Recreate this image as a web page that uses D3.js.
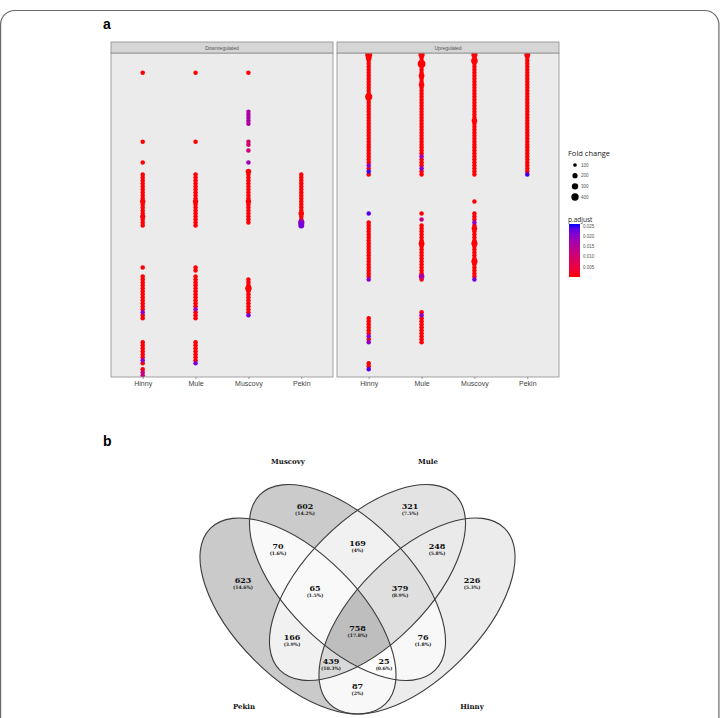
<!DOCTYPE html>
<html>
<head>
<meta charset="utf-8">
<script src="https://cdn.jsdelivr.net/npm/d3@7"></script>
<style>
body { margin: 0; background: #fff; }
svg { display: block; }
</style>
</head>
<body>
<svg id="fig" width="720" height="718"></svg>
<script>
// ---- panel a data ----
var species = ["Hinny", "Mule", "Muscovy", "Pekin"];
var facets = ["Downregulated", "Upregulated"];
var nTerms = 108;

// term rows (1 = top) that carry a dot
var downHinny = [7, 30, 37, 41, 42, 43, 44, 45, 46, 47, 48, 49, 50, 51, 52, 53, 54, 55, 56, 57, 58, 72,
    75, 76, 77, 78, 79, 80, 81, 82, 83, 84, 85, 86, 87, 88, 89, 97, 98, 99, 100, 101, 102, 103, 104, 106, 107, 108];
var downMule = [7, 30, 41, 42, 43, 44, 45, 46, 47, 48, 49, 50, 51, 52, 53, 54, 55, 56, 57, 58, 72, 73,
    75, 76, 77, 78, 79, 80, 81, 82, 83, 84, 85, 86, 87, 88, 89, 97, 98, 99, 100, 101, 102, 103, 104];
var downMuscovy = [7, 20, 21, 22, 23, 24, 30, 31, 33, 37, 40, 41, 42, 43, 44, 45, 46, 47, 48, 49, 50, 51, 52,
    53, 54, 55, 56, 57, 76, 77, 78, 79, 80, 81, 82, 83, 84, 85, 86, 87, 88];
var downPekin = [41, 42, 43, 44, 45, 46, 47, 48, 49, 50, 51, 52, 53, 54, 55, 56, 57, 58];
var upHinny = [1, 2, 3, 4, 5, 6, 7, 8, 9, 10, 11, 12, 13, 14, 15, 16, 17, 18, 19, 20, 21, 22, 23, 24, 25, 26,
    27, 28, 29, 30, 31, 32, 33, 34, 35, 36, 37, 38, 39, 40, 41, 54, 57, 58, 59, 60, 61, 62, 63, 64, 65, 66,
    67, 68, 69, 70, 71, 72, 73, 74, 75, 76, 89, 90, 91, 92, 93, 94, 95, 96, 97, 104, 105, 106];
var upMule = [1, 2, 3, 4, 5, 6, 7, 8, 9, 10, 11, 12, 13, 14, 15, 16, 17, 18, 19, 20, 21, 22, 23, 24, 25, 26,
    27, 28, 29, 30, 31, 32, 33, 34, 35, 36, 37, 38, 39, 40, 41, 54, 56, 58, 59, 60, 61, 62, 63, 64, 65, 66,
    67, 68, 69, 70, 71, 72, 73, 74, 75, 76, 87, 88, 89, 90, 91, 92, 93, 94, 95, 96, 97];
var upMuscovy = [1, 2, 3, 4, 5, 6, 7, 8, 9, 10, 11, 12, 13, 14, 15, 16, 17, 18, 19, 20, 21, 22, 23, 24, 25, 26,
    27, 28, 29, 30, 31, 32, 33, 34, 35, 36, 37, 38, 39, 40, 41, 50, 54, 55, 56, 57, 58, 59, 60, 61, 62, 63,
    64, 65, 66, 67, 68, 69, 70, 71, 72, 73, 74, 75, 76];
var upPekin = [1, 2, 3, 4, 5, 6, 7, 8, 9, 10, 11, 12, 13, 14, 15, 16, 17, 18, 19, 20, 21, 22, 23, 24, 25, 26,
    27, 28, 29, 30, 31, 32, 33, 34, 35, 36, 37, 38, 39, 40, 41];

var baseFold = 150;     // most dots
var basePadj = 0.0003;

// dots that are bigger than the rest: facet, species, term, fold change
var foldChanges = [
    ["Downregulated", "Hinny", 50, 210], ["Downregulated", "Hinny", 55, 200],
    ["Downregulated", "Mule", 50, 210],
    ["Downregulated", "Muscovy", 40, 220], ["Downregulated", "Muscovy", 50, 210], ["Downregulated", "Muscovy", 79, 300],
    ["Downregulated", "Pekin", 54, 230], ["Downregulated", "Pekin", 57, 300], ["Downregulated", "Pekin", 58, 260],
    ["Upregulated", "Hinny", 1, 360], ["Upregulated", "Hinny", 2, 260], ["Upregulated", "Hinny", 15, 380],
    ["Upregulated", "Mule", 1, 280], ["Upregulated", "Mule", 4, 450], ["Upregulated", "Mule", 8, 240],
    ["Upregulated", "Mule", 11, 230], ["Upregulated", "Mule", 64, 250], ["Upregulated", "Mule", 75, 230],
    ["Upregulated", "Muscovy", 1, 280], ["Upregulated", "Muscovy", 3, 330], ["Upregulated", "Muscovy", 23, 230],
    ["Upregulated", "Muscovy", 59, 230], ["Upregulated", "Muscovy", 64, 280], ["Upregulated", "Muscovy", 70, 280],
    ["Upregulated", "Pekin", 1, 260]
];

// dots with a higher p.adjust (purple/blue)
var pAdjusts = [
    ["Downregulated", "Hinny", 87, 0.02], ["Downregulated", "Hinny", 103, 0.02],
    ["Downregulated", "Hinny", 107, 0.012], ["Downregulated", "Hinny", 108, 0.012],
    ["Downregulated", "Mule", 86, 0.018], ["Downregulated", "Mule", 104, 0.022],
    ["Downregulated", "Muscovy", 20, 0.016], ["Downregulated", "Muscovy", 21, 0.016], ["Downregulated", "Muscovy", 22, 0.017],
    ["Downregulated", "Muscovy", 23, 0.016], ["Downregulated", "Muscovy", 24, 0.016],
    ["Downregulated", "Muscovy", 30, 0.01], ["Downregulated", "Muscovy", 31, 0.01], ["Downregulated", "Muscovy", 33, 0.011],
    ["Downregulated", "Muscovy", 37, 0.018], ["Downregulated", "Muscovy", 88, 0.022],
    ["Downregulated", "Pekin", 57, 0.02], ["Downregulated", "Pekin", 58, 0.022],
    ["Upregulated", "Hinny", 38, 0.02], ["Upregulated", "Hinny", 40, 0.025], ["Upregulated", "Hinny", 54, 0.024],
    ["Upregulated", "Hinny", 76, 0.02], ["Upregulated", "Hinny", 95, 0.02], ["Upregulated", "Hinny", 97, 0.02],
    ["Upregulated", "Hinny", 106, 0.024],
    ["Upregulated", "Mule", 35, 0.018], ["Upregulated", "Mule", 39, 0.02], ["Upregulated", "Mule", 56, 0.012],
    ["Upregulated", "Mule", 75, 0.016], ["Upregulated", "Mule", 88, 0.02],
    ["Upregulated", "Muscovy", 57, 0.02], ["Upregulated", "Muscovy", 76, 0.022],
    ["Upregulated", "Pekin", 41, 0.025]
];

var sizeBreaks = [100, 200, 300, 400];
var padjBreaks = [0.025, 0.020, 0.015, 0.010, 0.005];

// ---- panel b data ----
var vennSets = ["Pekin", "Muscovy", "Mule", "Hinny"];
var vennRegions = ["1000", "0100", "0010", "0001", "1100", "0110", "0011", "1110", "0111", "1111",
    "1010", "0101", "1011", "1101", "1001"];
var vennCounts = [623, 602, 321, 226, 70, 169, 248, 65, 379, 758, 166, 76, 439, 25, 87];
// label spots in venn units
var vennLabelX = [-1.145, -0.525, 0.525, 1.145, -0.795, 0, 0.795, -0.425, 0.425, 0, -0.655, 0.655, -0.265, 0.265, 0];
var vennLabelY = [0.20, 0.94, 0.94, 0.20, 0.54, 0.57, 0.54, 0.12, 0.12, -0.28, -0.37, -0.37, -0.61, -0.61, -0.86];
// ellipse shapes in venn units
var vennCx = [-0.595, -0.10, 0.10, 0.595];
var vennCy = [-0.16, 0.175, 0.175, -0.16];
var vennRot = [45, 45, -45, -45];
var vennA = 1.24, vennB = 0.62;
var setLabelX = [-1.135, -0.695, 0.705, 1.145];
var setLabelY = [-1.06, 1.39, 1.39, -1.06];


var svg = d3.select("#fig");
var defs = svg.append("defs");

// outer frame
svg.append("rect")
    .attr("x", 0.6).attr("y", 10.5)
    .attr("width", 718.3).attr("height", 740)
    .attr("rx", 14)
    .attr("fill", "none")
    .attr("stroke", "#6a6a6a")
    .attr("stroke-width", 1.2);

svg.append("text").attr("x", 103).attr("y", 29).text("a")
    .style("font", "bold 14px 'Liberation Sans', Arial, sans-serif");
svg.append("text").attr("x", 103).attr("y", 446).text("b")
    .style("font", "bold 14px 'Liberation Sans', Arial, sans-serif");

// ---------- panel a ----------
var stripTop = 42, panelTop = 53, panelBottom = 377;
var panelX = { Downregulated: [111, 333], Upregulated: [337, 559] };
var termLists = {
    Downregulated: { Hinny: downHinny, Mule: downMule, Muscovy: downMuscovy, Pekin: downPekin },
    Upregulated: { Hinny: upHinny, Mule: upMule, Muscovy: upMuscovy, Pekin: upPekin }
};

var y = d3.scalePoint().domain(d3.range(1, nTerms + 1)).range([panelTop, panelBottom]).padding(0.6);
var size = d3.scaleSqrt().domain([0, 450]).range([0, 3.9]);
var color = d3.scaleLinear().domain([0.0001, 0.026]).range(["red", "blue"]).interpolate(d3.interpolateLab);

function lookup(list, f, s, t, def) {
    for (var i = 0; i < list.length; i++) {
        if (list[i][0] == f && list[i][1] == s && list[i][2] == t) return list[i][3];
    }
    return def;
}

facets.forEach(function (f, fi) {
    var x = d3.scalePoint().domain(species).range(panelX[f]).padding(0.6);
    var x0 = panelX[f][0], x1 = panelX[f][1];
    var g = svg.append("g");

    defs.append("clipPath").attr("id", "panel" + fi)
        .append("rect").attr("x", x0).attr("y", panelTop).attr("width", x1 - x0).attr("height", panelBottom - panelTop);

    g.append("rect")
        .attr("x", x0).attr("y", panelTop)
        .attr("width", x1 - x0).attr("height", panelBottom - panelTop)
        .attr("fill", "#ebebeb");

    var pts = [];
    species.forEach(function (s) {
        termLists[f][s].forEach(function (t) {
            pts.push({
                species: s, term: t,
                fold: lookup(foldChanges, f, s, t, baseFold),
                padj: lookup(pAdjusts, f, s, t, basePadj)
            });
        });
    });
    pts.sort(function (a, b) { return (a.padj - b.padj) || (a.fold - b.fold); });

    g.append("g").attr("clip-path", "url(#panel" + fi + ")")
        .selectAll("circle").data(pts).enter().append("circle")
        .attr("cx", function (d) { return x(d.species); })
        .attr("cy", function (d) { return y(d.term); })
        .attr("r", function (d) { return size(d.fold); })
        .attr("fill", function (d) { return color(d.padj); });

    g.append("rect")
        .attr("x", x0).attr("y", panelTop)
        .attr("width", x1 - x0).attr("height", panelBottom - panelTop)
        .attr("fill", "none").attr("stroke", "#8c8c8c").attr("stroke-width", 0.8);

    // facet strip
    g.append("rect")
        .attr("x", x0).attr("y", stripTop)
        .attr("width", x1 - x0).attr("height", panelTop - stripTop)
        .attr("fill", "#d6d6d6").attr("stroke", "#8c8c8c").attr("stroke-width", 0.8);
    g.append("text")
        .attr("x", (x0 + x1) / 2).attr("y", stripTop + 7.5)
        .attr("text-anchor", "middle")
        .style("font", "5px 'Liberation Sans', Arial, sans-serif")
        .attr("fill", "#555")
        .text(f);

    var ax = g.append("g")
        .attr("transform", "translate(0," + panelBottom + ")")
        .call(d3.axisBottom(x).tickSize(2).tickPadding(2));
    ax.select(".domain").remove();
    ax.selectAll("line").attr("stroke", "#555").attr("stroke-width", 0.6);
    ax.selectAll("text")
        .style("font", "7px 'Liberation Sans', Arial, sans-serif")
        .attr("fill", "#444");
});

// legends
var leg = svg.append("g");
leg.append("text").attr("x", 568).attr("y", 156).text("Fold change")
    .style("font", "7.5px 'Open Sans', sans-serif").attr("fill", "#222");
var legY = d3.scalePoint().domain(sizeBreaks).range([165, 197]);
leg.selectAll(".sz").data(sizeBreaks).enter().append("circle")
    .attr("cx", 575).attr("cy", function (d) { return legY(d); })
    .attr("r", function (d) { return size(d); })
    .attr("fill", "#000");
leg.selectAll(".szl").data(sizeBreaks).enter().append("text")
    .attr("x", 581).attr("y", function (d) { return legY(d) + 1.6; })
    .text(function (d) { return d; })
    .style("font", "4.5px 'Liberation Sans', Arial, sans-serif").attr("fill", "#555");

leg.append("text").attr("x", 568).attr("y", 222).text("p.adjust")
    .style("font", "6.5px 'Open Sans', sans-serif").attr("fill", "#222");
var barY = d3.scaleLinear().domain([0.026, 0.0001]).range([224, 277]);
var grad = defs.append("linearGradient").attr("id", "padjGrad")
    .attr("x1", 0).attr("y1", 0).attr("x2", 0).attr("y2", 1);
d3.range(0, 11).forEach(function (i) {
    var v = 0.026 - i * (0.026 - 0.0001) / 10;
    grad.append("stop").attr("offset", (i * 10) + "%").attr("stop-color", color(v));
});
leg.append("rect").attr("x", 569).attr("y", barY(0.026))
    .attr("width", 11).attr("height", barY(0.0001) - barY(0.026))
    .attr("fill", "url(#padjGrad)");
leg.selectAll(".pl").data(padjBreaks).enter().append("text")
    .attr("x", 583).attr("y", function (d) { return barY(d) + 1.6; })
    .text(d3.format(".3f"))
    .style("font", "4.5px 'Liberation Sans', Arial, sans-serif").attr("fill", "#555");

// ---------- panel b : venn ----------
var vx = d3.scaleLinear().domain([-1, 1]).range([257.5, 457.5]);
var vy = d3.scaleLinear().domain([-1, 1]).range([700, 500]);
var unit = vx(1) - vx(0);
var shade = d3.scaleLinear().domain([0, 758]).range(["#ffffff", "#bebebe"]);
var total = d3.sum(vennCounts);

function addEllipse(sel, i) {
    return sel.append("ellipse")
        .attr("cx", vx(vennCx[i])).attr("cy", vy(vennCy[i]))
        .attr("rx", vennA * unit).attr("ry", vennB * unit)
        .attr("transform", "rotate(" + vennRot[i] + "," + vx(vennCx[i]) + "," + vy(vennCy[i]) + ")");
}

vennSets.forEach(function (s, i) {
    addEllipse(defs.append("clipPath").attr("id", "ve" + i), i);
});

var venn = svg.append("g");
vennRegions.forEach(function (code, r) {
    var mask = defs.append("mask").attr("id", "vm" + r)
        .attr("maskUnits", "userSpaceOnUse")
        .attr("x", 0).attr("y", 0).attr("width", 720).attr("height", 760);
    mask.append("rect").attr("x", 0).attr("y", 0).attr("width", 720).attr("height", 760).attr("fill", "#fff");
    var g = venn.append("g").attr("mask", "url(#vm" + r + ")");
    for (var i = 0; i < 4; i++) {
        if (code[i] == "1") {
            g = g.append("g").attr("clip-path", "url(#ve" + i + ")");
        } else {
            addEllipse(mask, i).attr("fill", "#000");
        }
    }
    g.append("rect").attr("x", 150).attr("y", 440).attr("width", 420).attr("height", 320)
        .attr("fill", shade(vennCounts[r]));
});

vennSets.forEach(function (s, i) {
    addEllipse(venn, i).attr("fill", "none").attr("stroke", "#3c3c3c").attr("stroke-width", 1.1);
});

venn.selectAll(".cnt").data(vennCounts).enter().append("text")
    .attr("x", function (d, i) { return vx(vennLabelX[i]); })
    .attr("y", function (d, i) { return vy(vennLabelY[i]) + 3; })
    .attr("text-anchor", "middle")
    .style("font", "bold 8px 'DejaVu Serif', serif").attr("fill", "#111")
    .text(function (d) { return d; });
venn.selectAll(".pct").data(vennCounts).enter().append("text")
    .attr("x", function (d, i) { return vx(vennLabelX[i]); })
    .attr("y", function (d, i) { return vy(vennLabelY[i]) + 8.5; })
    .attr("text-anchor", "middle")
    .style("font", "bold 4.6px 'DejaVu Serif', serif").attr("fill", "#222")
    .text(function (d) { return "(" + (+(d / total * 100).toFixed(1)) + "%)"; });

venn.selectAll(".set").data(vennSets).enter().append("text")
    .attr("x", function (d, i) { return vx(setLabelX[i]); })
    .attr("y", function (d, i) { return vy(setLabelY[i]) + 2.5; })
    .attr("text-anchor", "middle")
    .style("font", "bold 7px 'DejaVu Serif', serif").attr("fill", "#111")
    .text(function (d) { return d; });
</script>
</body>
</html>
